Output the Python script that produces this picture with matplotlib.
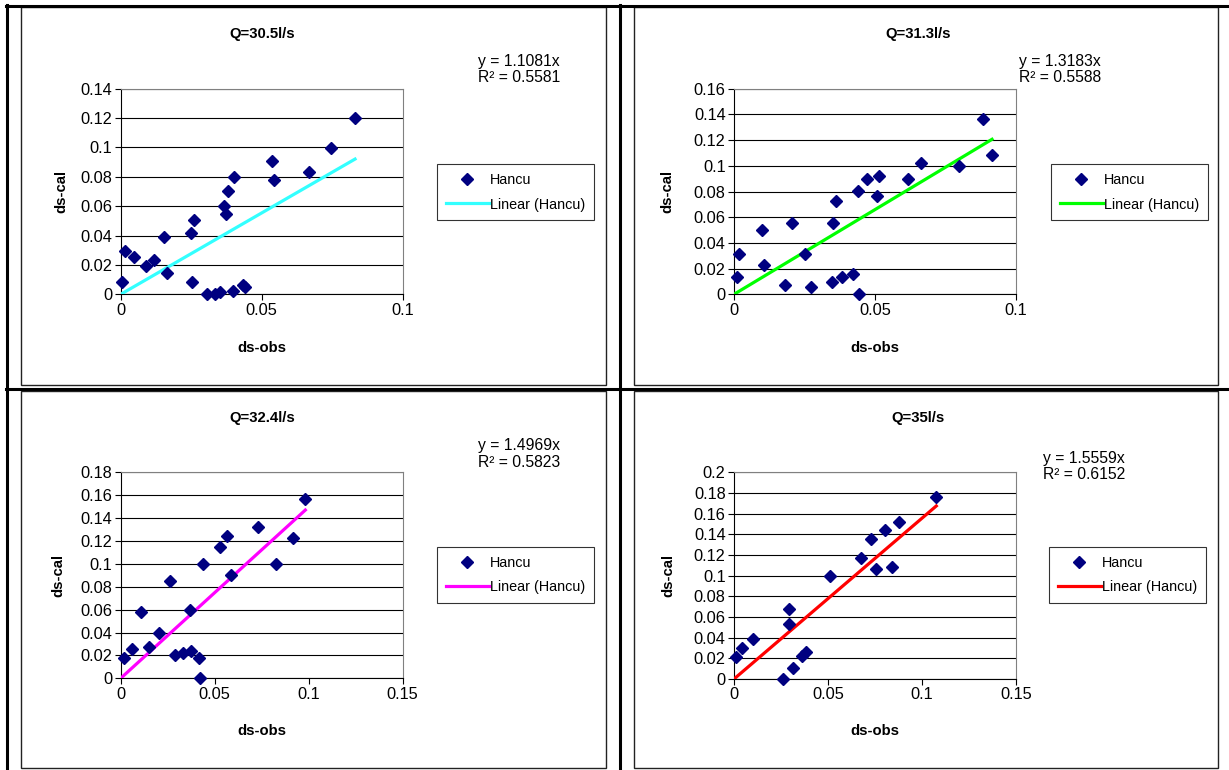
import numpy as np
import matplotlib
matplotlib.use("Agg")
import matplotlib.pyplot as plt
from matplotlib.ticker import FuncFormatter, MultipleLocator
from matplotlib.lines import Line2D
from matplotlib.patches import Rectangle

plt.rcParams['font.family'] = ['Liberation Sans', 'DejaVu Sans']

# data (ds-obs, ds-cal)
titles = ['Q=30.5l/s', 'Q=31.3l/s', 'Q=32.4l/s', 'Q=35l/s']
slopes = [1.1081, 1.3183, 1.4969, 1.5559]
r2 = [0.5581, 0.5588, 0.5823, 0.6152]
fit_colors = ['#33ffff', '#00ff00', '#ff00ff', '#ff0000']

obs1 = [0.0005, 0.0015, 0.0047, 0.0091, 0.0117, 0.0154, 0.0165, 0.0251, 0.0260,
        0.0253, 0.0306, 0.0333, 0.0352, 0.0365, 0.0372, 0.0380, 0.0402, 0.0398,
        0.0432, 0.0440, 0.0537, 0.0544, 0.0668, 0.0746, 0.0831]
cal1 = [0.0082, 0.0293, 0.0252, 0.0195, 0.0234, 0.0390, 0.0145, 0.0415, 0.0506,
        0.0084, 0.0, 0.0, 0.0014, 0.0601, 0.0545, 0.0701, 0.0799, 0.0023,
        0.0066, 0.0048, 0.0905, 0.0776, 0.0830, 0.0998, 0.1200]

obs2 = [0.0012, 0.0019, 0.0099, 0.0106, 0.0181, 0.0204, 0.0253, 0.0274, 0.0348,
        0.0350, 0.0361, 0.0383, 0.0423, 0.0439, 0.0442, 0.0473, 0.0506, 0.0515,
        0.0617, 0.0664, 0.0797, 0.0883, 0.0915]
cal2 = [0.0137, 0.0316, 0.0497, 0.0228, 0.0075, 0.0557, 0.0316, 0.0054, 0.0093,
        0.0557, 0.0726, 0.0137, 0.0156, 0.0804, 0.0, 0.0900, 0.0765, 0.0918,
        0.0900, 0.1019, 0.0998, 0.1364, 0.1082]

obs3 = [0.0020, 0.0059, 0.0108, 0.0149, 0.0204, 0.0262, 0.0289, 0.0330, 0.0369,
        0.0376, 0.0415, 0.0424, 0.0436, 0.0530, 0.0566, 0.0585, 0.0729, 0.0828,
        0.0917, 0.0982]
cal3 = [0.0181, 0.0256, 0.0580, 0.0274, 0.0399, 0.0851, 0.0201, 0.0218, 0.0597,
        0.0236, 0.0178, 0.0, 0.1002, 0.1148, 0.1247, 0.0900, 0.1322, 0.0999,
        0.1229, 0.1570]

obs4 = [0.0011, 0.0041, 0.0101, 0.0262, 0.0294, 0.0293, 0.0316, 0.0362, 0.0383,
        0.0512, 0.0674, 0.0730, 0.0753, 0.0803, 0.0842, 0.0876, 0.1076]
cal4 = [0.0213, 0.0303, 0.0384, 0.0, 0.0681, 0.0536, 0.0110, 0.0219, 0.0265,
        0.1000, 0.1174, 0.1355, 0.1065, 0.1442, 0.1081, 0.1516, 0.1765]

obs_all = [obs1, obs2, obs3, obs4]
cal_all = [cal1, cal2, cal3, cal4]
x_max = [0.1, 0.1, 0.15, 0.15]
y_max = [0.14, 0.16, 0.18, 0.2]

W, H = 1229, 770
fig = plt.figure(figsize=(W / 100, H / 100), dpi=100)


def fx(x):
    return x / W


def fy(y):
    return 1 - y / H


# table borders and chart area frames
for x in (7, 620):
    fig.add_artist(Line2D([fx(x), fx(x)], [0, fy(5)], color='black', lw=2.2))
for y in (6, 389):
    fig.add_artist(Line2D([fx(6), 1], [fy(y), fy(y)], color='black', lw=2.2))
for (x0, y0, x1, y1) in [(21, 7, 606, 385), (634, 7, 1218, 385),
                         (21, 391, 606, 768), (634, 391, 1218, 768)]:
    fig.add_artist(Rectangle((fx(x0), fy(y1)), fx(x1 - x0), (y1 - y0) / H,
                             fill=False, edgecolor='#222222', lw=1.0))

# plot area boxes in pixels: x0, x1, ytop, ybottom
plot_boxes = [(120.7, 402.7, 88.7, 294.3), (734, 1016, 88.7, 294.3),
              (120.7, 402.7, 472.3, 678.3), (734, 1016, 472.3, 679)]
title_pos = [(262, 34), (918, 34), (262, 418), (918, 418)]
eq_pos = [(478, 69.5), (1019, 69.5), (478, 454), (1043, 466.5)]
leg_pos = [(437, 164), (1051, 164), (437, 547), (1049, 547)]
ylab_x = [61, 667, 58, 668]
xlab_y = [348, 348, 731, 731]

fmt = FuncFormatter(lambda v, p: '%g' % round(v, 4))

for i in range(4):
    x0, x1, yt, yb = plot_boxes[i]
    ax = fig.add_axes([fx(x0), fy(yb), fx(x1 - x0), (yb - yt) / H])
    obs = np.array(obs_all[i])
    cal = np.array(cal_all[i])

    ax.plot(obs, cal, linestyle='none', marker='D', ms=6.3, color='#000080',
            label='Hancu', zorder=4, clip_on=False)
    xl = np.array([0, obs.max()])
    ax.plot(xl, slopes[i] * xl, color=fit_colors[i], lw=2.3,
            label='Linear (Hancu)', zorder=3)

    ax.set_xlim(0, x_max[i])
    ax.set_ylim(0, y_max[i])
    ax.xaxis.set_major_locator(MultipleLocator(0.05))
    ax.yaxis.set_major_locator(MultipleLocator(0.02))
    ax.xaxis.set_major_formatter(fmt)
    ax.yaxis.set_major_formatter(fmt)
    ax.yaxis.grid(True, color='black', lw=0.8)
    ax.set_axisbelow(True)
    ax.tick_params(labelsize=11.8, length=4, width=0.8, direction='out', pad=2)
    for s in ('top', 'right'):
        ax.spines[s].set_color('#808080')
        ax.spines[s].set_linewidth(0.8)
    for s in ('left', 'bottom'):
        ax.spines[s].set_color('black')
        ax.spines[s].set_linewidth(0.8)

    tx, ty = title_pos[i]
    fig.text(fx(tx), fy(ty), titles[i], ha='center', va='center',
             fontsize=10.7, fontweight='bold')
    ex, ey = eq_pos[i]
    fig.text(fx(ex), fy(ey), 'y = %.4fx\nR² = %.4f' % (slopes[i], r2[i]),
             ha='left', va='center', fontsize=11.3, linespacing=1.15)
    fig.text(fx(ylab_x[i]), (fy(yt) + fy(yb)) / 2, 'ds-cal', rotation=90,
             ha='center', va='center', fontsize=10.7, fontweight='bold')
    fig.text((fx(x0) + fx(x1)) / 2, fy(xlab_y[i]), 'ds-obs', ha='center',
             va='center', fontsize=10.7, fontweight='bold')

    lx, ly = leg_pos[i]
    leg = ax.legend(loc='upper left', bbox_to_anchor=(fx(lx), fy(ly)),
                    bbox_transform=fig.transFigure, fontsize=10.4,
                    frameon=True, fancybox=False, borderpad=0.6,
                    handlelength=3.0, handletextpad=0.05, labelspacing=0.75,
                    borderaxespad=0)
    leg.get_frame().set_edgecolor('black')
    leg.get_frame().set_linewidth(0.8)

fig.savefig('out.png', dpi=100)
